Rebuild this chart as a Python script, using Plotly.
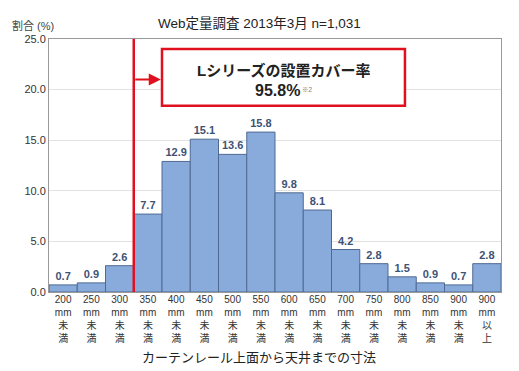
import plotly.graph_objects as go

categories = ["200<br>mm<br>未<br>満", "250<br>mm<br>未<br>満", "300<br>mm<br>未<br>満", "350<br>mm<br>未<br>満",
              "400<br>mm<br>未<br>満", "450<br>mm<br>未<br>満", "500<br>mm<br>未<br>満", "550<br>mm<br>未<br>満",
              "600<br>mm<br>未<br>満", "650<br>mm<br>未<br>満", "700<br>mm<br>未<br>満", "750<br>mm<br>未<br>満",
              "800<br>mm<br>未<br>満", "850<br>mm<br>未<br>満", "900<br>mm<br>未<br>満", "900<br>mm<br>以<br>上"]
values = [0.7, 0.9, 2.6, 7.7, 12.9, 15.1, 13.6, 15.8, 9.8, 8.1, 4.2, 2.8, 1.5, 0.9, 0.7, 2.8]
y_ticks = [0, 5, 10, 15, 20, 25]
y_tick_labels = ["0.0", "5.0", "10.0", "15.0", "20.0", "25.0"]

FONT = "Liberation Sans, Noto Sans CJK JP, sans-serif"
positions = list(range(len(values)))

fig = go.Figure()
fig.add_trace(go.Bar(
    x=positions, y=values, width=1,
    marker=dict(color="#88abdc", line=dict(color="#4f6a92", width=1)),
    text=[f"<b>{v:.1f}</b>" for v in values], textposition="outside",
    textfont=dict(family=FONT, size=11, color="#3e5275"),
    cliponaxis=False,
))

# page has an 8px body margin, so the figure is drawn 8px right/down
fig.update_layout(
    width=511, height=363,
    margin=dict(l=41, r=18, t=31, b=79, autoexpand=False),
    plot_bgcolor="white", paper_bgcolor="white",
    showlegend=False,
    font=dict(family=FONT, color="#333"),
)
fig.update_xaxes(
    range=[-0.5, len(values) - 0.5],
    tickvals=positions, ticktext=categories,
    tickfont=dict(family=FONT, size=10, color="#333"),
    showline=True, linecolor="#999", linewidth=1, mirror=True,
    showgrid=False, ticks="", ticklen=0, automargin=False,
    ticklabelstandoff=-2,
    fixedrange=True,
)
fig.update_yaxes(
    range=[0, 25], tickvals=y_ticks, ticktext=y_tick_labels,
    tickfont=dict(family=FONT, size=11, color="#333"),
    showline=True, linecolor="#999", linewidth=1, mirror=True,
    showgrid=True, gridcolor="#e2e2e2", gridwidth=1,
    ticks="", zeroline=False, automargin=False,
)

# red boundary line between 300 and 350
fig.add_shape(type="line", x0=2.5, x1=2.5, y0=0, y1=25, xref="x", yref="y",
              line=dict(color="#e0101e", width=2.5))
# highlight box
fig.add_shape(type="rect", x0=3.5, x1=12.1, y0=18.4, y1=24.0, xref="x", yref="y",
              line=dict(color="#e0101e", width=2.5), fillcolor="white")
# arrow
fig.add_annotation(x=3.46, y=21.0, ax=2.5, ay=21.0, xref="x", yref="y", axref="x", ayref="y",
                   text="", showarrow=True, arrowhead=2, arrowsize=1.1, arrowwidth=2.2,
                   arrowcolor="#e0101e", standoff=0)
fig.add_annotation(x=7.8, y=21.9, xref="x", yref="y", showarrow=False,
                   text="<b>Lシリーズの設置カバー率</b>",
                   font=dict(family=FONT, size=15, color="#222"))
fig.add_annotation(x=7.8, y=19.9, xref="x", yref="y", showarrow=False,
                   text="<b>95.8%</b><span style='font-size:9px;color:#777'><sup> ※2</sup></span>",
                   font=dict(family=FONT, size=16, color="#222"))

# titles
fig.add_annotation(x=0.465, y=1.0, xref="paper", yref="paper", yshift=6, yanchor="bottom", showarrow=False,
                   text="Web定量調査 2013年3月 n=1,031",
                   font=dict(family=FONT, size=13.5, color="#222"))
fig.add_annotation(x=0, y=1.0, xref="paper", yref="paper", xshift=-39, yshift=5, xanchor="left",
                   yanchor="bottom", showarrow=False,
                   text="割合 (%)", font=dict(family=FONT, size=11, color="#444"))
fig.add_annotation(x=0.465, y=0, xref="paper", yref="paper", yshift=-56, yanchor="top", showarrow=False,
                   text="カーテンレール上面から天井までの寸法",
                   font=dict(family=FONT, size=13, color="#222"))

fig.write_html("out.html")
